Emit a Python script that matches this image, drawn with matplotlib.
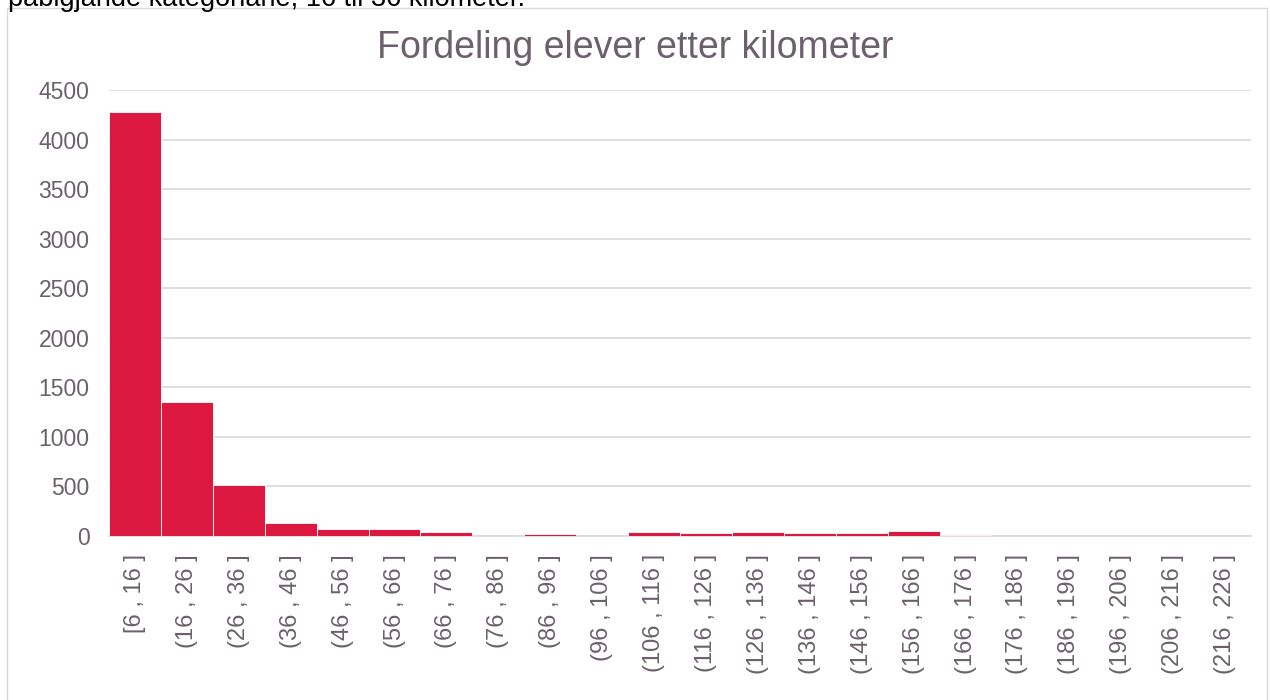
import numpy as np
import matplotlib.pyplot as plt
from matplotlib.patches import Rectangle

# kategoriar (km) og tal elevar
kategoriar = ["[6 , 16 ]", "(16 , 26 ]", "(26 , 36 ]", "(36 , 46 ]", "(46 , 56 ]",
              "(56 , 66 ]", "(66 , 76 ]", "(76 , 86 ]", "(86 , 96 ]", "(96 , 106 ]",
              "(106 , 116 ]", "(116 , 126 ]", "(126 , 136 ]", "(136 , 146 ]",
              "(146 , 156 ]", "(156 , 166 ]", "(166 , 176 ]", "(176 , 186 ]",
              "(186 , 196 ]", "(196 , 206 ]", "(206 , 216 ]", "(216 , 226 ]"]
elevar = [4280, 1355, 510, 130, 70, 75, 45, 5, 20, 5, 40, 30, 40, 30, 30, 50,
          10, 0, 3, 0, 0, 0]
y_ticks = [0, 500, 1000, 1500, 2000, 2500, 3000, 3500, 4000, 4500]

tekst = "#6B606C"
raud = "#DC1840"

plt.rcParams["font.family"] = ["Liberation Sans", "DejaVu Sans"]

fig = plt.figure(figsize=(12.7, 7), dpi=100)

# ramme rundt diagrammet
fig.patches.append(Rectangle((7 / 1270, -0.05), 1260 / 1270, 1 - 8 / 700 + 0.05,
                             transform=fig.transFigure, fill=False,
                             edgecolor="#D9D9D9", linewidth=1))
# avskoren tekst frå sida over diagrammet (berre nedre del synleg)
fig.text(8 / 1270, 1.0 + 0.024, "påbigjande kategoriane, 16 til 36 kilometer.",
         fontsize=19.5, color="black", va="top", ha="left")

ax = fig.add_axes([109 / 1270, 1 - 536 / 700, (1251 - 109) / 1270, 446 / 700])
x = np.arange(len(kategoriar))
ax.bar(x, elevar, width=1.0, color=raud, edgecolor="white", linewidth=0.6, zorder=3)

ax.set_xlim(-0.5, len(kategoriar) - 0.5)
ax.set_ylim(0, 4500)
ax.set_yticks(y_ticks)
ax.set_xticks(x)
ax.set_xticklabels(kategoriar, rotation=90, fontsize=17, color=tekst)
ax.tick_params(axis="y", labelsize=16.5, labelcolor=tekst, length=0, pad=14)
ax.tick_params(axis="x", length=0, pad=13)
ax.grid(axis="y", color="#D9D9D9", linewidth=1.2, zorder=0)
for s in ["top", "right", "left"]:
    ax.spines[s].set_visible(False)
ax.spines["bottom"].set_color("#D9D9D9")
ax.spines["bottom"].set_linewidth(1.2)

fig.text(0.5, 1 - 48 / 700, "Fordeling elever etter kilometer", fontsize=27,
         color=tekst, ha="center", va="center")

fig.savefig("out.png", dpi=100)
